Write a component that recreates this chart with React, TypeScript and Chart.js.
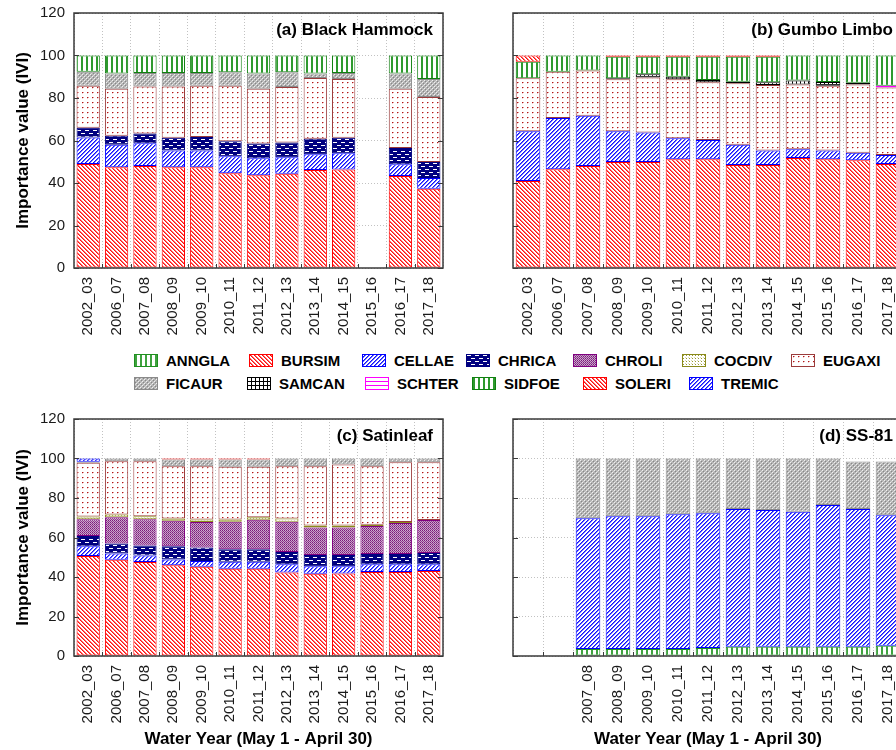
import React, { useEffect, useRef } from 'react';
import { Chart, registerables } from 'chart.js';

Chart.register(...registerables);

// ---------- categories / tick labels ----------
const YEARS = ['2002_03', '2006_07', '2007_08', '2008_09', '2009_10', '2010_11', '2011_12', '2012_13', '2013_14', '2014_15', '2015_16', '2016_17', '2017_18'];
const SS81_YEARS = ['', '', '2007_08', '2008_09', '2009_10', '2010_11', '2011_12', '2012_13', '2013_14', '2014_15', '2015_16', '2016_17', '2017_18'];
const Y_MIN = 0;
const Y_MAX = 120;
const Y_STEP = 20;
const Y_TITLE = 'Importance value (IVI)';
const X_TITLE = 'Water Year (May 1 - April 30)';

// ---------- species (stack order = legend order) ----------
const SPECIES = ['ANNGLA', 'BURSIM', 'CELLAE', 'CHRICA', 'CHROLI', 'COCDIV', 'EUGAXI', 'FICAUR', 'SAMCAN', 'SCHTER', 'SIDFOE', 'SOLERI', 'TREMIC'];

// ---------- (a) Black Hammock ----------
const bhBURSIM = [49.0, 47.4, 48.0, 47.4, 47.4, 44.6, 43.6, 44.3, 46.1, 46.3, null, 43.3, 37.3];
const bhCELLAE = [12.4, 10.6, 10.7, 7.9, 7.9, 8.0, 8.1, 7.8, 7.4, 7.7, null, 5.5, 5.1];
const bhCHRICA = [4.6, 4.2, 4.6, 6.0, 6.4, 7.1, 6.9, 7.0, 7.3, 7.3, null, 7.7, 7.5];
const bhEUGAXI = [19.8, 22.2, 22.1, 24.1, 24.1, 26.1, 25.7, 26.1, 28.6, 27.7, null, 27.8, 30.6];
const bhFICAUR = [6.6, 7.1, 6.4, 6.4, 6.0, 6.3, 7.2, 6.9, 2.1, 2.8, null, 7.2, 8.5];
const bhSIDFOE = [7.6, 8.5, 8.2, 8.2, 8.2, 7.9, 8.5, 7.9, 8.5, 8.2, null, 8.5, 11.0];

// ---------- (b) Gumbo Limbo ----------
const glBURSIM = [40.9, 46.5, 48.0, 49.9, 49.9, 51.2, 51.2, 48.5, 48.5, 51.8, 51.2, 50.7, 49.0];
const glCELLAE = [23.4, 24.1, 23.7, 14.4, 13.9, 9.9, 9.0, 9.5, 6.8, 4.1, 4.1, 3.5, 4.2];
const glEUGAXI = [25.0, 21.8, 21.2, 24.5, 25.8, 27.7, 27.2, 28.9, 30.8, 30.5, 30.5, 32.1, 31.7];
const glSAMCAN = [null, null, null, 0.5, 1.6, 1.2, 1.1, 0.8, 1.3, 1.8, 1.7, 0.9, null];
const glSCHTER = [null, null, null, null, null, null, null, null, null, null, null, null, 0.9];
const glSIDFOE = [7.8, 7.6, 7.1, 10.1, 8.2, 9.4, 10.9, 11.7, 12.0, 11.8, 12.5, 12.8, 14.2];
const glSOLERI = [2.9, null, null, 0.6, 0.6, 0.6, 0.6, 0.6, 0.6, null, null, null, null];

// ---------- (c) Satinleaf ----------
const slBURSIM = [50.6, 48.7, 47.6, 45.9, 45.2, 44.2, 44.2, 42.3, 41.7, 41.8, 42.5, 42.5, 43.0];
const slCELLAE = [5.0, 3.2, 3.3, 3.0, 2.9, 3.5, 3.5, 4.1, 3.8, 3.7, 3.9, 3.9, 3.4];
const slCHRICA = [5.1, 5.1, 5.1, 6.7, 6.9, 6.3, 6.3, 6.2, 5.6, 5.6, 5.2, 5.2, 5.7];
const slCHROLI = [8.6, 13.2, 13.3, 12.9, 12.8, 14.0, 15.0, 15.4, 14.0, 14.0, 14.2, 15.7, 16.7];
const slCOCDIV = [1.3, 1.5, 1.4, 1.1, 1.3, 1.1, 1.2, 1.6, 1.0, 1.0, 0.6, 0.5, null];
const slEUGAXI = [27.3, 26.9, 27.9, 26.5, 27.0, 26.7, 25.6, 26.5, 30.0, 30.9, 29.7, 30.3, 29.3];
const slFICAUR = [0.5, 1.4, 1.4, 3.4, 3.4, 3.7, 3.7, 3.9, 3.9, 3.0, 3.9, 1.9, 1.9];
const slSOLERI = [null, null, null, 0.5, 0.5, 0.5, 0.5, null, null, null, null, null, null];
const slTREMIC = [1.6, null, null, null, null, null, null, null, null, null, null, null, null];

// ---------- (d) SS-81 ----------
const ssANNGLA = [null, null, 3.5, 3.5, 3.5, 3.5, 4.0, 4.7, 4.7, 4.7, 4.7, 4.7, 5.2];
const ssCELLAE = [null, null, 66.3, 67.3, 67.3, 68.3, 68.3, 69.7, 69.2, 68.3, 71.7, 69.7, 66.1];
const ssFICAUR = [null, null, 30.2, 29.2, 29.2, 28.2, 27.7, 25.6, 26.1, 27.0, 23.6, 24.1, 27.2];

// ---------- styles ----------
type Sty = { kind: string; fg: string; border: string; fg2?: string };
const STYLE: Record<string, Sty> = {
  ANNGLA: { kind: 'vlines', fg: '#3fa33f', border: '#1f8f1f' },
  BURSIM: { kind: 'diagDown', fg: '#ff1010', fg2: '#ff6a6a', border: '#ff0000' },
  CELLAE: { kind: 'diagUp', fg: '#1010ff', fg2: '#6a6aff', border: '#0000ff' },
  CHRICA: { kind: 'brick', fg: '#000080', border: '#000080' },
  CHROLI: { kind: 'checker', fg: '#7a1a7a', fg2: '#cfaccf', border: '#800080' },
  COCDIV: { kind: 'dots', fg: '#9a9a30', border: '#8a8a1a' },
  EUGAXI: { kind: 'sparse', fg: '#b01818', fg2: '#e49a9a', border: '#9b3b3b' },
  FICAUR: { kind: 'mesh', fg: '#888888', fg2: '#b4b4b4', border: '#8a8a8a' },
  SAMCAN: { kind: 'grid', fg: '#000000', border: '#000000' },
  SCHTER: { kind: 'hlines', fg: '#ff00ff', border: '#ff00ff' },
  SIDFOE: { kind: 'vlines', fg: '#2e9a2e', border: '#108010' },
  SOLERI: { kind: 'diagDown', fg: '#ff1010', fg2: '#ff6a6a', border: '#ff0000' },
  TREMIC: { kind: 'diagUp', fg: '#1010ff', fg2: '#6a6aff', border: '#0000ff' },
};

const TILE_SIZE: Record<string, [number, number]> = {
  vlines: [5, 5], diagDown: [4, 4], diagUp: [4, 4], brick: [8, 6], checker: [2, 2],
  dots: [3, 3], sparse: [5, 5], mesh: [4, 4], grid: [4, 4], hlines: [4, 4],
};

function makeTile(s: Sty): HTMLCanvasElement {
  const [w, h] = TILE_SIZE[s.kind];
  const c = document.createElement('canvas');
  c.width = w;
  c.height = h;
  const g = c.getContext('2d')!;
  g.fillStyle = '#ffffff';
  g.fillRect(0, 0, w, h);
  const px = (x: number, y: number, col: string) => {
    g.fillStyle = col;
    g.fillRect(((x % w) + w) % w, ((y % h) + h) % h, 1, 1);
  };
  switch (s.kind) {
    case 'vlines':
      g.fillStyle = s.fg;
      g.fillRect(1, 0, 2, h);
      break;
    case 'diagDown':
      for (let i = 0; i < h; i++) { px(i, i, s.fg); px(i + 1, i, s.fg2!); }
      break;
    case 'diagUp':
      for (let i = 0; i < h; i++) { px(w - 1 - i, i, s.fg); px(w - i, i, s.fg2!); }
      break;
    case 'brick':
      g.fillStyle = s.fg;
      g.fillRect(0, 0, w, h);
      g.fillStyle = '#ffffff';
      g.fillRect(1, 1, 4, 1);
      g.fillRect(5, 4, 3, 1);
      g.fillRect(0, 4, 1, 1);
      break;
    case 'checker':
      px(0, 0, s.fg); px(1, 1, '#904090'); px(1, 0, s.fg2!); px(0, 1, '#c49ac4');
      break;
    case 'dots':
      px(1, 1, s.fg); px(0, 0, '#dcdcb0');
      break;
    case 'sparse':
      px(2, 2, s.fg); px(3, 2, s.fg2!); px(2, 3, '#f2cccc');
      break;
    case 'mesh':
      g.fillStyle = s.fg2!;
      g.fillRect(0, 0, w, h);
      px(0, 0, '#f0f0f0'); px(2, 2, '#f0f0f0'); px(1, 1, s.fg); px(3, 3, s.fg); px(3, 1, '#d6d6d6'); px(1, 3, '#d6d6d6');
      break;
    case 'grid':
      g.fillStyle = s.fg;
      g.fillRect(0, 0, w, 1);
      g.fillRect(0, 0, 1, h);
      break;
    case 'hlines':
      g.fillStyle = s.fg;
      g.fillRect(0, 0, w, 1);
      break;
  }
  return c;
}

function makePattern(ctx: CanvasRenderingContext2D, name: string): CanvasPattern | string {
  const p = ctx.createPattern(makeTile(STYLE[name]), 'repeat');
  return p || STYLE[name].fg;
}

// ---------- fonts ----------
const SANS = "'Liberation Sans', Arial, sans-serif";
const NARROW = "'Liberation Sans Narrow', 'Arial Narrow', 'Liberation Sans', Arial, sans-serif";

// ---------- panels ----------
type Series = [string, (number | null)[]];
type Panel = {
  title: string; labels: string[]; series: Series[];
  showYLabels: boolean; showXTitle: boolean;
  left: number; top: number; width: number; height: number;
  yAxisW: number; xAxisH: number; padTop: number; padRight: number;
};

const PANELS: Panel[] = [
  {
    title: '(a) Black Hammock', labels: YEARS,
    series: [['BURSIM', bhBURSIM], ['CELLAE', bhCELLAE], ['CHRICA', bhCHRICA], ['EUGAXI', bhEUGAXI], ['FICAUR', bhFICAUR], ['SIDFOE', bhSIDFOE]],
    showYLabels: true, showXTitle: false,
    left: 0, top: 0, width: 450, height: 345, yAxisW: 74, xAxisH: 77, padTop: 13, padRight: 7,
  },
  {
    title: '(b) Gumbo Limbo', labels: YEARS,
    series: [['BURSIM', glBURSIM], ['CELLAE', glCELLAE], ['EUGAXI', glEUGAXI], ['SAMCAN', glSAMCAN], ['SCHTER', glSCHTER], ['SIDFOE', glSIDFOE], ['SOLERI', glSOLERI]],
    showYLabels: false, showXTitle: false,
    left: 480, top: 0, width: 430, height: 345, yAxisW: 33, xAxisH: 77, padTop: 13, padRight: 7,
  },
  {
    title: '(c) Satinleaf', labels: YEARS,
    series: [['BURSIM', slBURSIM], ['CELLAE', slCELLAE], ['CHRICA', slCHRICA], ['CHROLI', slCHROLI], ['COCDIV', slCOCDIV], ['EUGAXI', slEUGAXI], ['FICAUR', slFICAUR], ['SOLERI', slSOLERI], ['TREMIC', slTREMIC]],
    showYLabels: true, showXTitle: true,
    left: 0, top: 400, width: 450, height: 350, yAxisW: 74, xAxisH: 94, padTop: 19, padRight: 7,
  },
  {
    title: '(d) SS-81', labels: SS81_YEARS,
    series: [['ANNGLA', ssANNGLA], ['CELLAE', ssCELLAE], ['FICAUR', ssFICAUR]],
    showYLabels: false, showXTitle: true,
    left: 480, top: 400, width: 430, height: 350, yAxisW: 33, xAxisH: 94, padTop: 19, padRight: 7,
  },
];

const framePlugin = {
  id: 'panelFrame',
  afterDraw(chart: any, _args: any, opts: any) {
    const { ctx, chartArea: a, scales } = chart;
    ctx.save();
    ctx.strokeStyle = '#3a3a3a';
    ctx.lineWidth = 1.5;
    ctx.strokeRect(a.left, a.top, a.right - a.left, a.bottom - a.top);
    // inward tick marks
    ctx.lineWidth = 1;
    ctx.beginPath();
    const y = scales.y;
    for (let v = Y_MIN; v <= Y_MAX; v += Y_STEP) {
      const py = Math.round(y.getPixelForValue(v)) + 0.5;
      ctx.moveTo(a.left, py); ctx.lineTo(a.left + 5, py);
      ctx.moveTo(a.right, py); ctx.lineTo(a.right - 5, py);
    }
    const x = scales.x;
    const n = chart.data.labels.length;
    for (let i = 1; i < n; i++) {
      const px = Math.round((x.getPixelForValue(i - 1) + x.getPixelForValue(i)) / 2) + 0.5;
      ctx.moveTo(px, a.bottom); ctx.lineTo(px, a.bottom - 4);
    }
    ctx.stroke();
    // panel title
    ctx.fillStyle = '#000';
    ctx.font = `bold 17px ${SANS}`;
    ctx.textAlign = 'right';
    ctx.textBaseline = 'middle';
    ctx.fillText(opts.text, a.right - 10, a.top + 17);
    ctx.restore();
  },
};

function PanelChart({ p }: { p: Panel }) {
  const ref = useRef<HTMLCanvasElement>(null);
  useEffect(() => {
    const canvas = ref.current!;
    const ctx = canvas.getContext('2d')!;
    const datasets = SPECIES.filter((s) => p.series.some((e) => e[0] === s)).map((s) => {
      const data = p.series.find((e) => e[0] === s)![1];
      return {
        label: s,
        data,
        backgroundColor: makePattern(ctx, s),
        borderColor: STYLE[s].border,
        borderWidth: 1,
        borderSkipped: false,
        categoryPercentage: 1,
        barPercentage: 0.82,
      };
    });
    const chart = new Chart(canvas, {
      type: 'bar',
      data: { labels: p.labels, datasets: datasets as any },
      plugins: [framePlugin as any],
      options: {
        responsive: false,
        animation: false,
        devicePixelRatio: 1,
        layout: { padding: { top: p.padTop, right: p.padRight, left: 0, bottom: 0 } },
        plugins: {
          legend: { display: false },
          tooltip: { enabled: false },
          panelFrame: { text: p.title },
        } as any,
        scales: {
          x: {
            stacked: true,
            offset: true,
            grid: { color: '#c2c2c2', lineWidth: 1, drawTicks: false, offset: true },
            border: { display: false, dash: [1, 2] },
            ticks: {
              autoSkip: false, maxRotation: 90, minRotation: 90, padding: 9,
              font: { family: NARROW, size: 15 }, color: '#1a1a1a',
            },
            title: {
              display: p.showXTitle, text: X_TITLE, color: '#000',
              font: { family: SANS, size: 17, weight: 'bold' }, padding: { top: 0, bottom: 0 },
            },
            afterFit: (s: any) => {
              s.height = p.xAxisH;
              s.paddingLeft = 0; s.paddingRight = 0; s.paddingTop = 0; s.paddingBottom = 0;
            },
          },
          y: {
            stacked: true,
            min: Y_MIN, max: Y_MAX,
            grid: { color: '#c2c2c2', lineWidth: 1, drawTicks: false },
            border: { display: false, dash: [1, 2] },
            ticks: {
              display: p.showYLabels, stepSize: Y_STEP, padding: 9,
              font: { family: NARROW, size: 15 }, color: '#1a1a1a',
            },
            title: {
              display: p.showYLabels, text: Y_TITLE, color: '#000',
              font: { family: SANS, size: 17, weight: 'bold' }, padding: { top: 13, bottom: 0 },
            },
            afterFit: (s: any) => {
              s.width = p.yAxisW;
              s.paddingLeft = 0; s.paddingRight = 0; s.paddingTop = 0; s.paddingBottom = 0;
            },
          },
        } as any,
      },
    });
    return () => chart.destroy();
  }, [p]);
  return (
    <canvas
      ref={ref}
      width={p.width}
      height={p.height}
      style={{ position: 'absolute', left: p.left, top: p.top, width: p.width, height: p.height }}
    />
  );
}

function Swatch({ name }: { name: string }) {
  const ref = useRef<HTMLCanvasElement>(null);
  useEffect(() => {
    const c = ref.current!;
    const g = c.getContext('2d')!;
    g.clearRect(0, 0, c.width, c.height);
    g.fillStyle = makePattern(g, name) as any;
    g.fillRect(0, 0, c.width, c.height);
    g.strokeStyle = STYLE[name].border;
    g.lineWidth = 1;
    g.strokeRect(0.5, 0.5, c.width - 1, c.height - 1);
  }, [name]);
  return <canvas ref={ref} width={24} height={13} style={{ display: 'block' }} />;
}

// legend layout (pixel placement of the flow rows)
const LEGEND_ROW1_X = [134, 249, 362, 466, 573, 682, 791];
const LEGEND_ROW2_X = [134, 247, 365, 472, 583, 689];
const LEGEND_ROW_TOP = [354, 377];

function Legend() {
  const rows = [SPECIES.slice(0, 7), SPECIES.slice(7)];
  const xs = [LEGEND_ROW1_X, LEGEND_ROW2_X];
  return (
    <>
      {rows.map((row, r) =>
        row.map((name, i) => (
          <div
            key={name}
            style={{
              position: 'absolute', left: xs[r][i], top: LEGEND_ROW_TOP[r] - 2, height: 17,
              display: 'flex', alignItems: 'center', whiteSpace: 'nowrap',
            }}
          >
            <Swatch name={name} />
            <span style={{ marginLeft: 8, font: `bold 15px ${SANS}`, color: '#000', lineHeight: '17px' }}>{name}</span>
          </div>
        ))
      )}
    </>
  );
}

export default function App() {
  return (
    <div
      style={{
        position: 'fixed', left: 0, top: 0, width: 896, height: 750,
        overflow: 'hidden', background: '#fff',
      }}
    >
      {PANELS.map((p) => (
        <PanelChart key={p.title} p={p} />
      ))}
      <Legend />
    </div>
  );
}
